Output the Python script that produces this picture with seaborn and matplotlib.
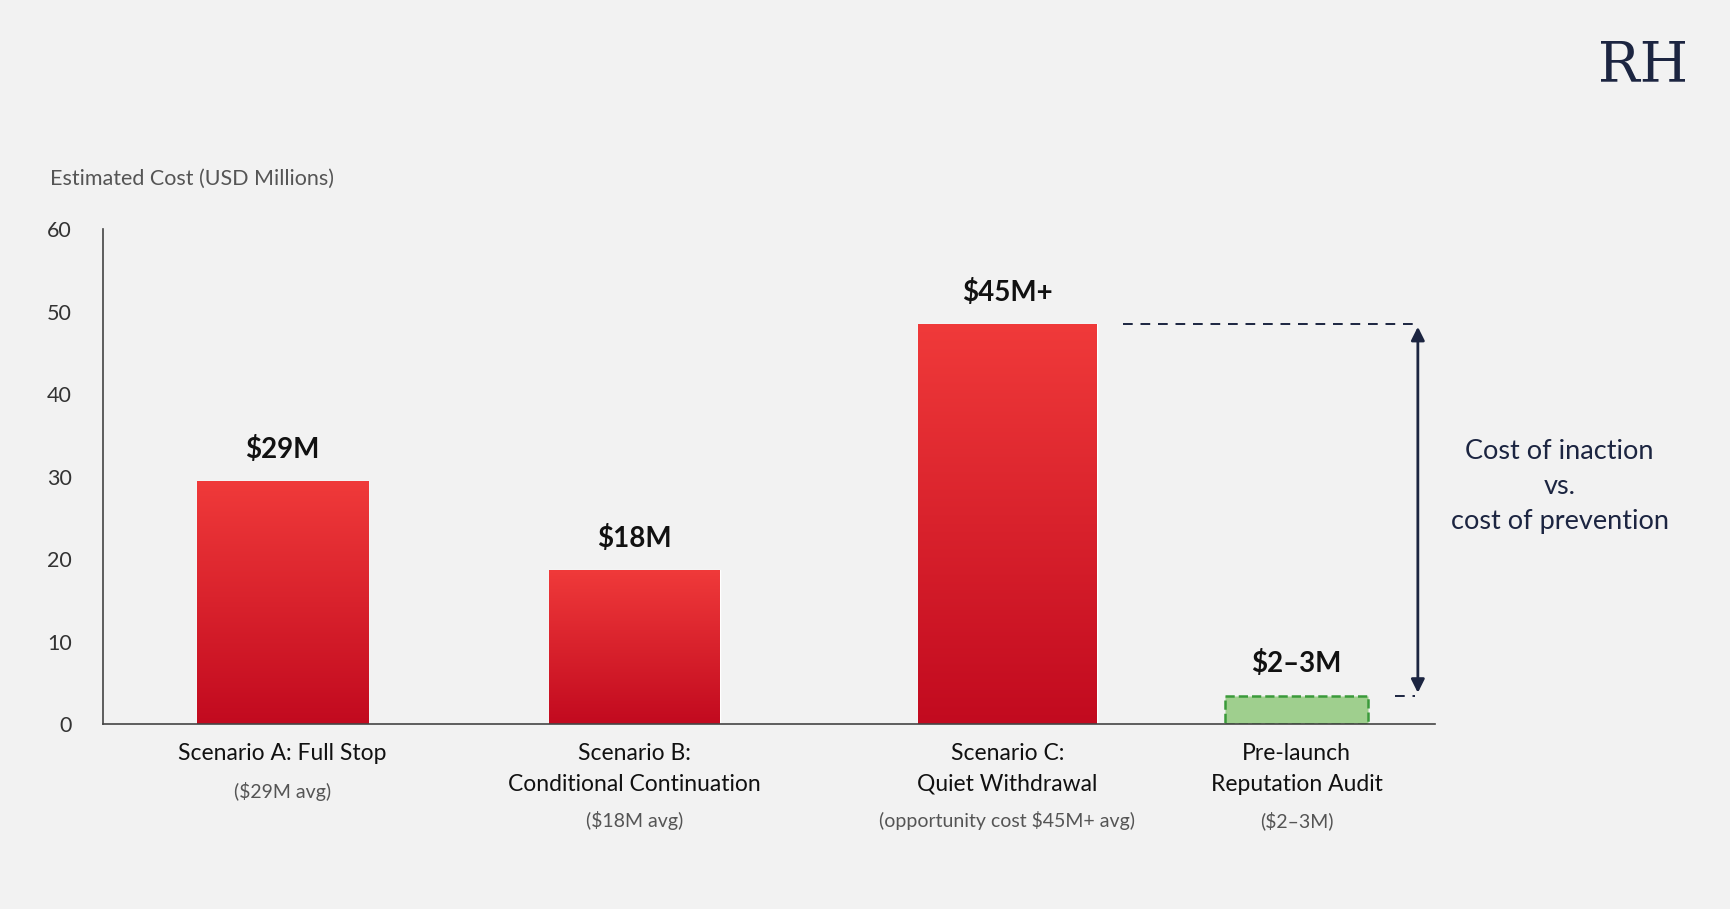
import matplotlib.pyplot as plt
import matplotlib.colors as mcolors
import seaborn as sns
import numpy as np
import pandas as pd

categories = ["Scenario A: Full Stop", "Scenario B:\nConditional Continuation",
              "Scenario C:\nQuiet Withdrawal", "Pre-launch\nReputation Audit"]
sublabels = ["($29M avg)", "($18M avg)", "(opportunity cost $45M+ avg)", "($2\u20133M)"]
values = [29.5, 18.7, 48.5, 3.5]
value_labels = ["$29M", "$18M", "$45M+", "$2\u20133M"]
yticks = [0, 10, 20, 30, 40, 50, 60]

# layout (bar centres / widths in axis units, axis runs 0..10)
centers = [1.35, 3.99, 6.79, 8.96]
widths = [1.29, 1.28, 1.34, 1.07]

bg = "#f2f2f2"
navy = "#1c2541"
sns.set_theme(style="white")
plt.rcParams["font.family"] = ["Lato", "DejaVu Sans"]

fig = plt.figure(figsize=(17.31, 9.09), dpi=100, facecolor=bg)
ax = fig.add_axes([0.0593, 0.203, 0.7698, 0.545], facecolor=bg)
ax.set_xlim(0, 10)
ax.set_ylim(0, 60)

df = pd.DataFrame({"cat": categories, "val": values})
bars = ax.bar(centers, df["val"], width=widths, color="none")
red_cmap = mcolors.LinearSegmentedColormap.from_list("r", ["#c20a1f", "#f03a3a"])
grad = np.linspace(0, 1, 256).reshape(-1, 1)
for i, b in enumerate(bars):
    x0, w, h = b.get_x(), b.get_width(), b.get_height()
    if i < 3:
        im = ax.imshow(grad, extent=[x0, x0 + w, 0, h], origin="lower", cmap=red_cmap,
                       aspect="auto", zorder=2)
        im.set_clip_path(b)
    else:
        b.set_facecolor("#9fcf8e")
        b.set_edgecolor("#3a9a3a")
        b.set_linestyle("--")
        b.set_linewidth(1.8)
    ax.text(b.get_x() + w / 2, h + 2.2, value_labels[i], ha="center", va="bottom",
            fontsize=20, fontweight="bold", color="#111111")
ax.set_aspect("auto")

sns.despine(ax=ax)
for s in ["left", "bottom"]:
    ax.spines[s].set_color("#444444")
    ax.spines[s].set_linewidth(1.2)
ax.set_yticks(yticks)
ax.tick_params(axis="y", labelsize=15.5, colors="#333333", length=0, pad=22)
ax.set_xticks(centers)
ax.set_xticklabels(categories, fontsize=16.5, color="#111111", linespacing=1.6)
ax.tick_params(axis="x", length=0, pad=13)
ylab_y = [-8.15, -11.6, -11.6, -11.6]
for c, s, yy in zip(centers, sublabels, ylab_y):
    ax.text(c, yy, s, ha="center", va="center", fontsize=14, color="#555555")

# cost of inaction annotation
ax.plot([7.66, 9.85], [values[2], values[2]], ls=(0, (5, 4)), color=navy, lw=1.4, clip_on=False)
ax.plot([9.7, 9.85], [values[3], values[3]], ls=(0, (5, 4)), color=navy, lw=1.4, clip_on=False)
ax.annotate("", xy=(9.87, values[2]), xytext=(9.87, values[3]),
            arrowprops=dict(arrowstyle="<|-|>", color=navy, lw=2, mutation_scale=20),
            annotation_clip=False)
fig.text(0.901, 0.465, "Cost of inaction\nvs.\ncost of prevention", ha="center", va="center",
         fontsize=19.5, color=navy, linespacing=1.5)

fig.text(0.029, 0.797, "Estimated Cost (USD Millions)", fontsize=15.5, color="#555555")
fig.text(0.949, 0.928, "RH", fontsize=40, color=navy, family="DejaVu Serif",
         ha="center", va="center")

fig.savefig("out.png", dpi=100, facecolor=bg)
